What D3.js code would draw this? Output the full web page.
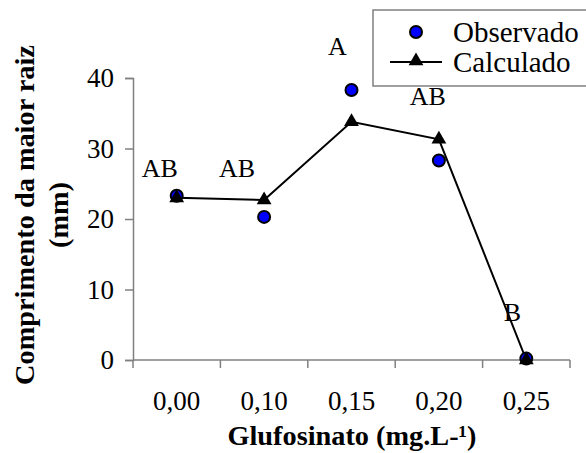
<!DOCTYPE html>
<html>
<head>
<meta charset="utf-8">
<script src="https://cdn.jsdelivr.net/npm/d3@7"></script>
<style>
  body { margin: 0; background: #fff; }
  svg text { font-family: "Liberation Serif", "Times New Roman", Times, "DejaVu Serif", serif; }
</style>
</head>
<body>
<div id="chart"></div>
<script>
// Data
const doses = ["0,00", "0,10", "0,15", "0,20", "0,25"];
const observado = [23.3, 20.3, 38.3, 28.3, 0.2];
const calculado = [23.0, 22.7, 33.8, 31.3, 0.0];
const letras = ["AB", "AB", "A", "AB", "B"];
const letraY = [26.0, 26.0, 43.3, 36.2, 5.5];   // label heights in data units
const letraDx = [-17, -27, -14, -11, -14];        // small horizontal nudges
const yTicks = [0, 10, 20, 30, 40];

const width = 586;
const height = 453;
const margin = { top: 78, right: 16, bottom: 93, left: 133 };
const axisColor = "#808080";

const svg = d3.select("#chart")
  .append("svg")
  .attr("width", width)
  .attr("height", height)
  .style("background", "#ffffff");

// Scales
const x = d3.scaleBand()
  .domain(doses)
  .range([margin.left, width - margin.right])
  .padding(0);

const y = d3.scaleLinear()
  .domain([0, 40])
  .range([height - margin.bottom, margin.top]);

const cx = d => x(d) + x.bandwidth() / 2;

// X axis (ticks at band edges, labels centred in bands)
const xAxis = svg.append("g")
  .attr("transform", `translate(0, ${y(0)})`);

xAxis.append("line")
  .attr("x1", x.range()[0]).attr("x2", x.range()[1])
  .attr("y1", 0).attr("y2", 0)
  .attr("stroke", axisColor).attr("stroke-width", 1.5);

const edges = doses.map(d => x(d)).concat([x.range()[1]]);
xAxis.selectAll("line.tick")
  .data(edges)
  .join("line")
  .attr("class", "tick")
  .attr("x1", d => d).attr("x2", d => d)
  .attr("y1", 0).attr("y2", 8)
  .attr("stroke", axisColor).attr("stroke-width", 1.5);

xAxis.selectAll("text")
  .data(doses)
  .join("text")
  .attr("x", d => cx(d))
  .attr("y", 50)
  .attr("text-anchor", "middle")
  .style("font-size", "27px")
  .text(d => d);

// Y axis
const yAxis = svg.append("g")
  .attr("transform", `translate(${margin.left}, 0)`)
  .call(d3.axisLeft(y).tickValues(yTicks).tickSize(8).tickPadding(11).tickFormat(d3.format("d")));

yAxis.attr("font-family", null);
yAxis.select(".domain").attr("stroke", axisColor).attr("stroke-width", 1.5);
yAxis.selectAll(".tick line").attr("stroke", axisColor).attr("stroke-width", 1.5);
yAxis.selectAll(".tick text")
  .attr("dy", "0.33em")
  .style("font-size", "27px")
  .attr("fill", "#000");

// Axis titles
svg.append("text")
  .attr("x", 352)
  .attr("y", 445)
  .attr("text-anchor", "middle")
  .style("font-size", "28.3px")
  .style("font-weight", "bold")
  .text("Glufosinato (mg.L-¹)");

const yTitle = svg.append("text")
  .attr("transform", "translate(0, 215) rotate(-90)")
  .attr("text-anchor", "middle")
  .style("font-size", "28.3px")
  .style("font-weight", "bold");

yTitle.append("tspan").attr("x", 0).attr("y", 34).text("Comprimento da maior raiz");
yTitle.append("tspan").attr("x", 0).attr("y", 68).text("(mm)");

// Calculated line
const line = d3.line()
  .x((d, i) => cx(doses[i]))
  .y(d => y(d));

svg.append("path")
  .datum(calculado)
  .attr("d", line)
  .attr("fill", "none")
  .attr("stroke", "#000")
  .attr("stroke-width", 2);

// Observed points
svg.selectAll("circle.obs")
  .data(observado)
  .join("circle")
  .attr("class", "obs")
  .attr("cx", (d, i) => cx(doses[i]))
  .attr("cy", d => y(d))
  .attr("r", 6)
  .attr("fill", "#0000ff")
  .attr("stroke", "#000")
  .attr("stroke-width", 2);

// Calculated triangles
const tri = d3.symbol().type(d3.symbolTriangle).size(95);
svg.selectAll("path.calc")
  .data(calculado)
  .join("path")
  .attr("class", "calc")
  .attr("d", tri)
  .attr("transform", (d, i) => `translate(${cx(doses[i])}, ${y(d)})`)
  .attr("fill", "#000");

// Significance letters
svg.selectAll("text.letra")
  .data(letras)
  .join("text")
  .attr("class", "letra")
  .attr("x", (d, i) => cx(doses[i]) + letraDx[i])
  .attr("y", (d, i) => y(letraY[i]))
  .attr("text-anchor", "middle")
  .style("font-size", "26px")
  .text(d => d);

// Legend
const legend = svg.append("g");

legend.append("rect")
  .attr("x", 373)
  .attr("y", 10)
  .attr("width", 230)
  .attr("height", 76)
  .attr("fill", "#fff")
  .attr("stroke", axisColor)
  .attr("stroke-width", 1.5);

legend.append("circle")
  .attr("cx", 416).attr("cy", 32).attr("r", 6)
  .attr("fill", "#0000ff").attr("stroke", "#000").attr("stroke-width", 2);

legend.append("line")
  .attr("x1", 390).attr("x2", 442).attr("y1", 62).attr("y2", 62)
  .attr("stroke", "#000").attr("stroke-width", 2);

legend.append("path")
  .attr("d", tri)
  .attr("transform", "translate(416, 61)")
  .attr("fill", "#000");

legend.append("text")
  .attr("x", 453).attr("y", 42)
  .style("font-size", "29px")
  .text("Observado");

legend.append("text")
  .attr("x", 453).attr("y", 72)
  .style("font-size", "29px")
  .text("Calculado");
</script>
</body>
</html>
